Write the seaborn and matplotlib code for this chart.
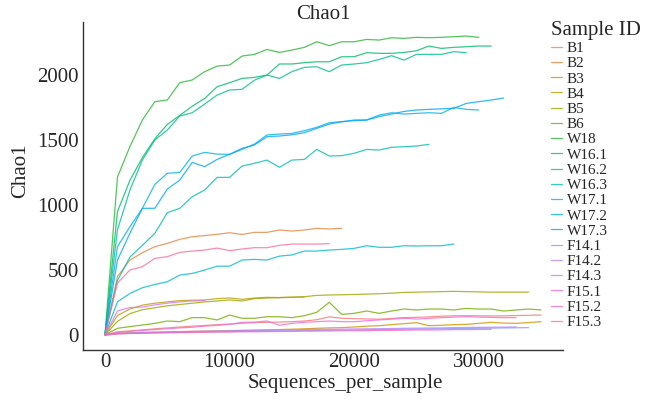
import numpy as np
import pandas as pd
import matplotlib
matplotlib.use("Agg")
import matplotlib.pyplot as plt
import seaborn as sns

# rarefaction depths
depth = [1, 1000, 2000, 3000, 4000, 5000, 6000, 7000, 8000, 9000, 10000,
         11000, 12000, 13000, 14000, 15000, 16000, 17000, 18000, 19000, 20000,
         21000, 22000, 23000, 24000, 25000, 26000, 27000, 28000, 29000, 30000,
         31000, 32000, 33000, 34000, 35000]

samples = ['B1', 'B2', 'B3', 'B4', 'B5', 'B6', 'W18', 'W16.1', 'W16.2', 'W16.3',
           'W17.1', 'W17.2', 'W17.3', 'F14.1', 'F14.2', 'F14.3', 'F15.1', 'F15.2', 'F15.3']

# chao1 per sample, one value per depth until the sample runs out of reads
B1 = [2, 25, 32, 40, 48, 55, 62, 68, 74, 80, 85, 90, 95, 98, 100, 103, 108, 118, 140, 129,
      126, 124, 122, 128, 134, 136, 140, 145, 148, 149, 148, 147, 148, 150, 152, 154]
B2 = [3, 450, 577, 633, 680, 705, 736, 756, 765, 775, 787, 774, 790, 790, 808, 800, 808, 821, 816, 821]
B3 = [1, 15, 18, 20, 22, 24, 26, 28, 30, 32, 34, 36, 38, 40, 42, 45, 48, 52, 55, 57,
      62, 68, 72, 80, 88, 95, 72, 75, 80, 82, 90, 98, 92, 90, 96, 103]
B4 = [2, 150, 200, 230, 245, 255, 265, 268, 270, 280, 285, 275, 285, 290, 288, 292, 292]
B5 = [2, 105, 165, 195, 210, 225, 235, 245, 255, 262, 270, 262, 280, 285, 288, 290, 295, 305,
      308, 310, 312, 315, 318, 322, 328, 330, 332, 334, 336, 334, 332, 330, 330, 330, 330]
B6 = [2, 52, 65, 77, 90, 108, 103, 134, 134, 116, 154, 129, 129, 141, 141, 134, 149, 175, 252,
      159, 167, 185, 167, 185, 200, 193, 200, 200, 193, 205, 200, 200, 185, 193, 200, 193]
W18 = [5, 1215, 1450, 1654, 1795, 1808, 1941, 1962, 2026, 2069, 2077, 2146, 2159, 2197, 2174,
       2192, 2213, 2256, 2226, 2256, 2256, 2274, 2269, 2287, 2282, 2290, 2287, 2290, 2295, 2300, 2290]
W16_1 = [5, 950, 1190, 1365, 1510, 1620, 1690, 1760, 1820, 1910, 1941, 1974, 1982, 2000, 2085,
         2085, 2095, 2102, 2102, 2141, 2141, 2172, 2167, 2167, 2174, 2187, 2223, 2205, 2213, 2218, 2223, 2223]
W16_2 = [3, 810, 1115, 1346, 1500, 1577, 1685, 1710, 1777, 1846, 1885, 1890, 1961, 2000, 1974,
         2026, 2059, 2064, 2026, 2077, 2085, 2095, 2120, 2149, 2115, 2159, 2159, 2159, 2180, 2172]
W16_3 = [3, 420, 600, 690, 782, 941, 975, 1064, 1116, 1213, 1213, 1300, 1321, 1346, 1290, 1346,
         1351, 1428, 1377, 1380, 1398, 1428, 1423, 1444, 1449, 1454, 1467]
W17_1 = [3, 256, 320, 364, 389, 410, 461, 474, 500, 530, 530, 577, 582, 577, 607, 616, 646, 646,
         654, 659, 667, 687, 675, 675, 687, 685, 687, 687, 700]
W17_2 = [3, 680, 833, 975, 1159, 1244, 1251, 1377, 1405, 1392, 1390, 1428, 1469, 1539, 1546, 1551,
         1572, 1598, 1633, 1641, 1649, 1654, 1692, 1710, 1700, 1705, 1710, 1705, 1751, 1736, 1731]
W17_3 = [3, 577, 783, 975, 975, 1123, 1192, 1328, 1295, 1351, 1390, 1436, 1462, 1526, 1531, 1540,
         1557, 1590, 1623, 1641, 1654, 1654, 1680, 1700, 1720, 1731, 1736, 1740, 1744, 1782, 1795, 1808, 1823]
F14_1 = [1, 10, 13, 15, 17, 19, 21, 22, 24, 25, 27, 28, 29, 31, 32, 33, 35, 36, 37, 38, 40, 41,
         42, 43, 45, 46, 47, 48, 50, 51, 52, 53, 55, 56, 57]
F14_2 = [1, 12, 16, 19, 22, 24, 26, 28, 30, 32, 33, 35, 36, 38, 39, 40, 42, 43, 44, 45, 47, 48,
         49, 50, 52, 53, 54, 55, 57, 58, 59, 60, 61, 62]
F14_3 = [2, 185, 212, 215, 232, 245, 255, 262, 265]
F15_1 = [2, 20, 28, 35, 42, 48, 55, 60, 68, 75, 82, 98, 100, 108, 75, 90, 98, 103, 108, 103, 103,
         110, 116, 122, 129, 123, 128, 134, 138, 141, 138, 136, 134, 134]
F15_2 = [1, 8, 12, 13, 16, 17, 19, 20, 21, 23, 23, 25, 25, 27, 27, 28, 30, 30, 31, 33, 33, 34,
         36, 36, 37, 39, 39, 40, 42, 42, 43, 44]
F15_3 = [3, 400, 500, 526, 590, 603, 636, 646, 654, 669, 649, 662, 672, 672, 690, 700, 700, 700, 703]

series = [B1, B2, B3, B4, B5, B6, W18, W16_1, W16_2, W16_3, W17_1, W17_2, W17_3,
          F14_1, F14_2, F14_3, F15_1, F15_2, F15_3]

rows = []
for name, vals in zip(samples, series):
    for d, v in zip(depth, vals):
        rows.append((name, d, v))
df = pd.DataFrame(rows, columns=['Sample ID', 'Sequences_per_sample', 'Chao1'])


def hcl_hex(h, c=100, l=65):
    # ggplot-style hue palette (polar Luv -> sRGB)
    hr = np.deg2rad(h)
    u, v = c * np.cos(hr), c * np.sin(hr)
    xn, yn, zn = 95.047, 100.0, 108.883
    un = 4 * xn / (xn + 15 * yn + 3 * zn)
    vn = 9 * yn / (xn + 15 * yn + 3 * zn)
    Y = yn * ((l + 16) / 116) ** 3
    up = u / (13 * l) + un
    vp = v / (13 * l) + vn
    X = Y * 9 * up / (4 * vp)
    Z = Y * (12 - 3 * up - 20 * vp) / (4 * vp)
    m = np.array([[3.2404542, -1.5371385, -0.4985314],
                  [-0.9692660, 1.8760108, 0.0415560],
                  [0.0556434, -0.2040259, 1.0572252]])
    lin = m @ np.array([X, Y, Z]) / 100
    out = np.where(lin <= 0.0031308, 12.92 * lin, 1.055 * np.clip(lin, 0, None) ** (1 / 2.4) - 0.055)
    return tuple(np.clip(out, 0, 1))


n = len(samples)
palette = [hcl_hex(15 + 360 * i / n, c=90) for i in range(n)]

sns.set_style('white')
plt.rcParams['font.family'] = ['Liberation Serif', 'DejaVu Serif']

fig = plt.figure(figsize=(6.56, 3.99), dpi=100)
ax = fig.add_axes([83 / 656, 49 / 399, 480 / 656, 328 / 399])

sns.lineplot(data=df, x='Sequences_per_sample', y='Chao1', hue='Sample ID',
             hue_order=samples, palette=palette, estimator=None, sort=False,
             linewidth=0.9, alpha=0.8, ax=ax)

ax.set_xlim(-1766, 36760)
ax.set_ylim(-115, 2408)
ax.set_xticks([0, 10000, 20000, 30000])
ax.set_yticks([0, 500, 1000, 1500, 2000])
for s in ['top', 'right']:
    ax.spines[s].set_visible(False)
for s in ['left', 'bottom']:
    ax.spines[s].set_color('#333333')
    ax.spines[s].set_linewidth(1.0)
ax.tick_params(direction='in', length=6, width=1.0, color='#333333',
               labelsize=15, pad=3)
ax.tick_params(axis='x', pad=2)
ax.set_title('Chao1', fontsize=15, pad=2)
ax.set_xlabel('Sequences_per_sample', fontsize=15)
ax.set_ylabel('Chao1', fontsize=15)
ax.xaxis.set_label_coords(0.546, -0.072)
ax.yaxis.set_label_coords(-0.11, 0.546)

sns.move_legend(ax, 'upper left', bbox_to_anchor=(0.963, 1.022), frameon=False,
                title='Sample ID', fontsize=11, title_fontsize=15,
                handlelength=0.7, handletextpad=0.3, labelspacing=0.1,
                borderaxespad=0, alignment='left')

plt.savefig('out.png', dpi=100)
plt.close()
